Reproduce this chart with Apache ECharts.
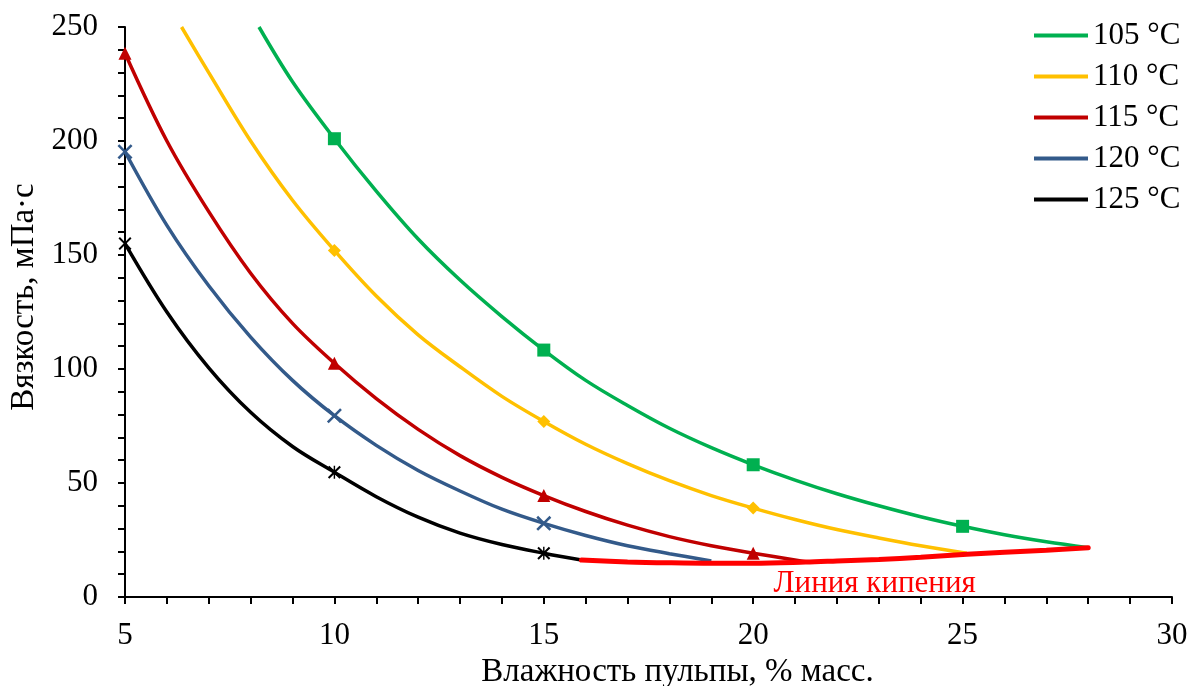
<!DOCTYPE html>
<html>
<head>
<meta charset="utf-8">
<script src="https://cdn.jsdelivr.net/npm/echarts@6/dist/echarts.min.js"></script>
<style>
html,body{margin:0;padding:0;background:#fff;}
#chart{width:1204px;height:686px;}
</style>
</head>
<body>
<div id="chart"></div>
<script>
// Series names
const seriesNames = ['105 °C', '110 °C', '115 °C', '120 °C', '125 °C'];
const boilingLabel = 'Линия кипения';
const xTitle = 'Влажность пульпы, % масс.';
const yTitle = 'Вязкость, мПа·с';

// Fitted curves [x, y]
const curve105 = [[8.2,250],[9,226],[10,201],[11,178],[12,157],[13,139],[14,123],[15,108.3],[16,95],[17,84],[18,74],[19,65.5],[20,58],[21,51.3],[22,45.3],[23,40],[24,35.2],[25,31],[26,27.3],[27,24.2],[28,21.6]];
const curve110 = [[6.35,250],[7,230],[8,200],[9,174],[10,152],[11,132],[12,115],[13,101],[14,88],[15,77],[16,67],[17,58.5],[18,51],[19,44.5],[20,39],[21,34],[22,29.6],[23,25.9],[24,22.5],[25.1,19.2]];
const curve115 = [[5,238.5],[6,200],[7,169],[8,142],[9,120],[10,102.5],[11,87],[12,73.5],[13,62],[14,52.5],[15,44.5],[16,37.5],[17,31.5],[18,26.5],[19,22.5],[20,19.2],[21.25,15.5]];
const curve120 = [[5,195.3],[6,163],[7,136.5],[8,114],[9,95],[10,79.5],[11,66.5],[12,55.5],[13,46.5],[14,38.5],[15,32.3],[16,27],[17,22.5],[18,19],[19,15.8]];
const curve125 = [[5,155],[6,125],[7,100.5],[8,81],[9,66],[10,54.7],[11,44],[12,35],[13,28],[14,23],[15,19.2],[15.9,16.2]];
const boilingLine = [[15.9,16.2],[17,15.4],[18,15.0],[19,14.8],[20,14.8],[21.25,15.3],[22,15.8],[23,16.5],[24,17.4],[25.1,18.7],[26,19.6],[27,20.5],[28,21.6]];

// Experimental points (markers)
const pts105 = [[10,201],[15,108.3],[20,58],[25,31]];
const pts110 = [[10,152],[15,77],[20,39]];
const pts115 = [[5,238.5],[10,102.5],[15,44.5],[20,19.2]];
const pts120 = [[5,195.3],[10,79.5],[15,32.3]];
const pts125 = [[5,155],[10,54.7],[15,19.2]];

// Label anchor for boiling line text
const boilingLabelPos = [22.9, 5.6];

const colors = ['#00B050', '#FFC000', '#C00000', '#335A8A', '#000000'];
const boilColor = '#FF0000';
const FONT = '"Liberation Serif", "Times New Roman", serif';
const FS = 31;
const FT = 33;

const crossPath = 'path://M0,2.4 L2.4,0 L10,7.6 L17.6,0 L20,2.4 L12.4,10 L20,17.6 L17.6,20 L10,12.4 L2.4,20 L0,17.6 L7.6,10 Z';
const starPath = 'path://M0,2.2 L2.2,0 L10,7.8 L17.8,0 L20,2.2 L12.2,10 L20,17.8 L17.8,20 L10,12.2 L2.2,20 L0,17.8 L7.8,10 Z M8.9,0 L11.1,0 L11.1,20 L8.9,20 Z';

const curves = [curve105, curve110, curve115, curve120, curve125];
const points = [pts105, pts110, pts115, pts120, pts125];
const symbols = ['rect', 'diamond', 'triangle', crossPath, starPath];
const symbolSizes = [13, 13, 13, 15, 13];

const series = [];
curves.forEach((c, i) => {
  series.push({
    name: seriesNames[i],
    type: 'line',
    data: c,
    smooth: 0.35,
    symbol: 'none',
    lineStyle: { color: colors[i], width: 3.5 },
    itemStyle: { color: colors[i] },
    z: 2
  });
});
points.forEach((p, i) => {
  series.push({
    name: seriesNames[i] + ' pts',
    type: 'scatter',
    data: p,
    symbol: symbols[i],
    symbolSize: symbolSizes[i],
    itemStyle: { color: colors[i], opacity: 1 },
    z: 4
  });
});
series.push({
  name: boilingLabel,
  type: 'line',
  data: boilingLine,
  smooth: 0.35,
  symbol: 'none',
  lineStyle: { color: boilColor, width: 5, cap: 'round' },
  itemStyle: { color: boilColor },
  z: 3,
  markPoint: {
    symbol: 'circle',
    symbolSize: 0,
    data: [{ coord: boilingLabelPos }],
    label: {
      show: true,
      position: 'inside',
      formatter: boilingLabel,
      color: boilColor,
      fontFamily: FONT,
      fontSize: FS
    }
  }
});

const chart = echarts.init(document.getElementById('chart'), null, { renderer: 'canvas' });
chart.setOption({
  animation: false,
  backgroundColor: '#fff',
  grid: { left: 125, right: 32, top: 27, bottom: 89, containLabel: false, outerBoundsMode: 'none' },
  legend: {
    data: seriesNames,
    orient: 'vertical',
    left: 1029,
    top: 15,
    icon: 'rect',
    itemWidth: 54,
    itemHeight: 4,
    itemGap: 10,
    textStyle: { fontFamily: FONT, fontSize: FS, color: '#000', lineHeight: 31 }
  },
  xAxis: {
    type: 'value',
    min: 5, max: 30, interval: 5,
    name: xTitle,
    nameLocation: 'middle',
    nameGap: 46,
    nameTextStyle: { fontFamily: FONT, fontSize: FT, color: '#000', padding: [0, 0, 0, 58] },
    axisLine: { show: true, onZero: false, lineStyle: { color: '#000', width: 2 } },
    axisTick: { show: true, inside: false, length: 7, lineStyle: { color: '#000', width: 2 } },
    minorTick: { show: true, splitNumber: 5, length: 7, lineStyle: { color: '#000', width: 2 } },
    splitLine: { show: false },
    minorSplitLine: { show: false },
    axisLabel: { fontFamily: FONT, fontSize: FS, color: '#000', margin: 23 }
  },
  yAxis: {
    type: 'value',
    min: 0, max: 250, interval: 50,
    name: yTitle,
    nameLocation: 'middle',
    nameGap: 83,
    nameRotate: 90,
    nameTextStyle: { fontFamily: FONT, fontSize: FT, color: '#000', padding: [0, 0, 0, 30] },
    axisLine: { show: true, onZero: false, lineStyle: { color: '#000', width: 2 } },
    axisTick: { show: true, inside: false, length: 7, lineStyle: { color: '#000', width: 2 } },
    minorTick: { show: true, splitNumber: 5, length: 7, lineStyle: { color: '#000', width: 2 } },
    splitLine: { show: false },
    minorSplitLine: { show: false },
    axisLabel: { fontFamily: FONT, fontSize: FS, color: '#000', margin: 27 }
  },
  series: series
});
</script>
</body>
</html>
